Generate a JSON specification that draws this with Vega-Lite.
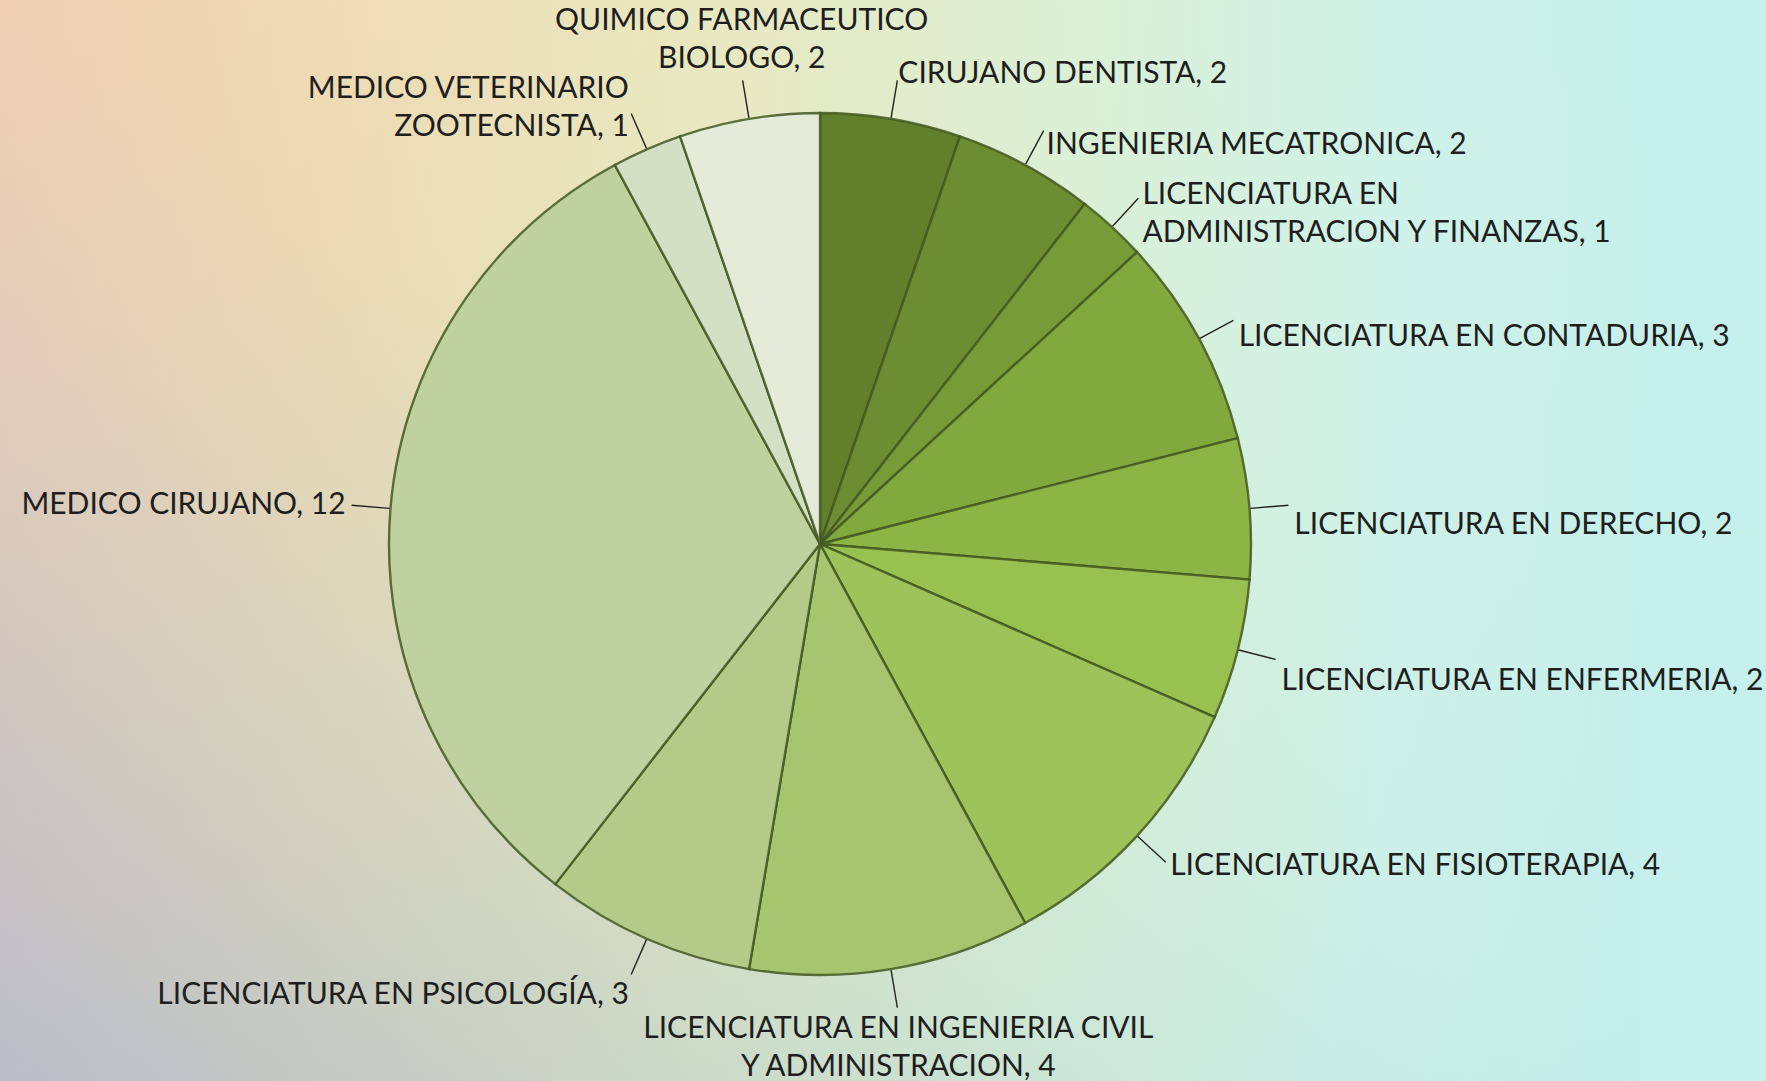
{
  "$schema": "https://vega.github.io/schema/vega-lite/v6.json",
  "width": 1640,
  "height": 1088,
  "autosize": {"type": "none"},
  "padding": {"left": 0, "top": 0, "right": 126, "bottom": 0},
  "background": "#c6f0eb",
  "config": {
    "view": {"stroke": null},
    "text": {"font": "Lato"}
  },
  "data": {
    "values": [
      {"cat": "CIRUJANO DENTISTA", "n": 2, "label": "CIRUJANO DENTISTA, 2"},
      {"cat": "INGENIERIA MECATRONICA", "n": 2, "label": "INGENIERIA MECATRONICA, 2"},
      {"cat": "LICENCIATURA EN ADMINISTRACION Y FINANZAS", "n": 1, "label": "LICENCIATURA EN\nADMINISTRACION Y FINANZAS, 1"},
      {"cat": "LICENCIATURA EN CONTADURIA", "n": 3, "label": "LICENCIATURA EN CONTADURIA, 3"},
      {"cat": "LICENCIATURA EN DERECHO", "n": 2, "label": "LICENCIATURA EN DERECHO, 2"},
      {"cat": "LICENCIATURA EN ENFERMERIA", "n": 2, "label": "LICENCIATURA EN ENFERMERIA, 2"},
      {"cat": "LICENCIATURA EN FISIOTERAPIA", "n": 4, "label": "LICENCIATURA EN FISIOTERAPIA, 4"},
      {"cat": "LICENCIATURA EN INGENIERIA CIVIL Y ADMINISTRACION", "n": 4, "label": "LICENCIATURA EN INGENIERIA CIVIL\nY ADMINISTRACION, 4"},
      {"cat": "LICENCIATURA EN PSICOLOGÍA", "n": 3, "label": "LICENCIATURA EN PSICOLOGÍA, 3"},
      {"cat": "MEDICO CIRUJANO", "n": 12, "label": "MEDICO CIRUJANO, 12"},
      {"cat": "MEDICO VETERINARIO ZOOTECNISTA", "n": 1, "label": "MEDICO VETERINARIO\nZOOTECNISTA, 1"},
      {"cat": "QUIMICO FARMACEUTICO BIOLOGO", "n": 2, "label": "QUIMICO FARMACEUTICO\nBIOLOGO, 2"}
    ]
  },
  "layer": [
    {
      "data": {"values": [{}]},
      "mark": {
        "type": "rect",
        "fill": {
          "gradient": "linear",
          "x1": 0, "y1": 0.5, "x2": 1, "y2": 0.5,
          "stops": [
            {"offset": 0, "color": "#f8cfb0"},
            {"offset": 0.2, "color": "#f3dbb0"},
            {"offset": 0.42, "color": "#ebe8bd"},
            {"offset": 0.65, "color": "#dcf0d4"},
            {"offset": 0.85, "color": "#cff2e8"},
            {"offset": 1, "color": "#c6f0eb"}
          ]
        }
      },
      "encoding": {}
    },
    {
      "data": {"values": [{}]},
      "mark": {
        "type": "rect",
        "fill": {
          "gradient": "linear",
          "x1": 1, "y1": 0, "x2": 0, "y2": 1,
          "stops": [
            {"offset": 0, "color": "rgba(255,255,255,0)"},
            {"offset": 0.5, "color": "rgba(150,205,225,0.08)"},
            {"offset": 1, "color": "rgba(110,165,230,0.45)"}
          ]
        }
      },
      "encoding": {}
    },
    {
      "mark": {"type": "arc", "radius": 431, "stroke": "#435822", "strokeWidth": 2.4, "strokeOpacity": 0.85},
      "encoding": {
        "theta": {"field": "n", "type": "quantitative", "stack": true},
        "color": {
          "field": "cat",
          "type": "nominal",
          "legend": null,
          "scale": {
            "domain": [
              "CIRUJANO DENTISTA",
              "INGENIERIA MECATRONICA",
              "LICENCIATURA EN ADMINISTRACION Y FINANZAS",
              "LICENCIATURA EN CONTADURIA",
              "LICENCIATURA EN DERECHO",
              "LICENCIATURA EN ENFERMERIA",
              "LICENCIATURA EN FISIOTERAPIA",
              "LICENCIATURA EN INGENIERIA CIVIL Y ADMINISTRACION",
              "LICENCIATURA EN PSICOLOGÍA",
              "MEDICO CIRUJANO",
              "MEDICO VETERINARIO ZOOTECNISTA",
              "QUIMICO FARMACEUTICO BIOLOGO"
            ],
            "range": ["#627f2c", "#6c8d31", "#779b37", "#82a93e", "#8cb545", "#98c14f", "#9ec35b", "#a7c56f", "#b3ca88", "#bed19e", "#d3e0c3", "#e4ebd8"]
          }
        },
        "order": {"field": "cat", "type": "ordinal"}
      }
    },
    {
      "mark": {"type": "arc", "radius": 470, "radius2": 432, "padAngle": 3.2, "fill": null, "fillOpacity": 0, "stroke": "#222222", "strokeWidth": 1.4},
      "encoding": {
        "theta": {"field": "n", "type": "quantitative", "stack": true},
        "order": {"field": "cat", "type": "ordinal"}
      }
    },
    {
      "mark": {
        "type": "text",
        "radius": 476,
        "fontSize": 30,
        "lineHeight": 38,
        "lineBreak": "\n",
        "color": "#1e1e1e",
        "align": {"expr": "(datum.n_start + datum.n_end) / 76 > 0.96 ? 'center' : (((datum.n_start + datum.n_end) / 76 > 0.44 && (datum.n_start + datum.n_end) / 76 < 0.5) ? 'center' : ((datum.n_start + datum.n_end) / 76 < 0.5 ? 'left' : 'right'))"},
        "baseline": {"expr": "(datum.n_start + datum.n_end) / 76 > 0.96 ? 'bottom' : (((datum.n_start + datum.n_end) / 76 > 0.44 && (datum.n_start + datum.n_end) / 76 < 0.6) ? 'top' : 'middle')"},
        "dy": {"expr": "(indexof(datum.label, '\\n') >= 0 ? ((datum.n_start + datum.n_end) / 76 > 0.96 ? -38 : (((datum.n_start + datum.n_end) / 76 > 0.44 && (datum.n_start + datum.n_end) / 76 < 0.6) ? 0 : -19)) : 0) + (((datum.n_start + datum.n_end) / 76 > 0.05 && (datum.n_start + datum.n_end) / 76 < 0.33) ? 20 : 0)"}
      },
      "encoding": {
        "theta": {"field": "n", "type": "quantitative", "stack": true},
        "order": {"field": "cat", "type": "ordinal"},
        "text": {"field": "label", "type": "nominal"}
      }
    }
  ]
}
